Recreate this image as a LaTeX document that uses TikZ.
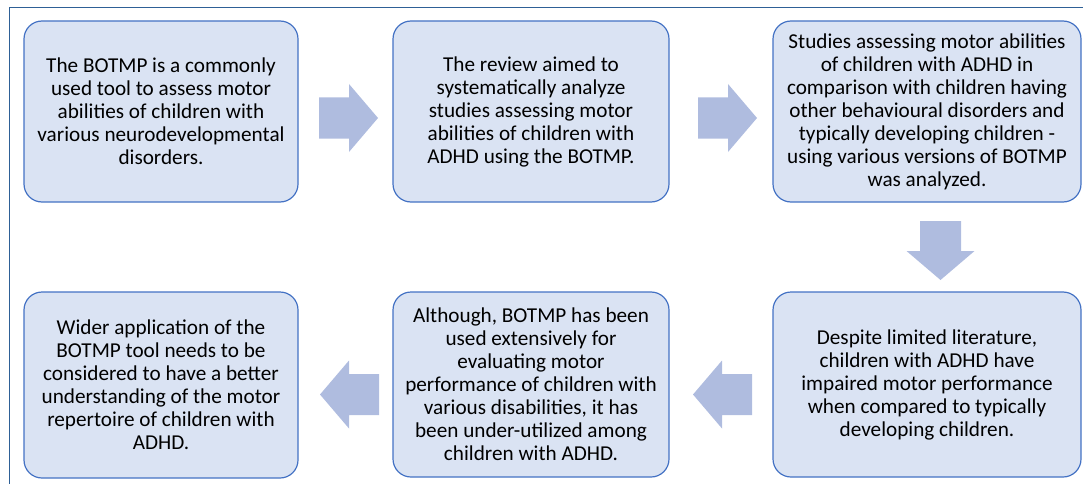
\documentclass[tikz,border=0pt]{standalone}
\usepackage{fontspec}
\setmainfont{Carlito}
\definecolor{boxfill}{RGB}{218,227,243}
\definecolor{boxline}{RGB}{68,114,196}
\definecolor{arrowfill}{RGB}{175,188,223}
\definecolor{framecol}{RGB}{46,96,150}
\tikzset{
  stepbox/.style={draw=boxline, fill=boxfill, line width=1.2pt, rounded corners=18pt,
    align=center, inner sep=0pt, font=\fontsize{21.2}{23}\selectfont},
  barrow/.pic={\fill[arrowfill] (0,-20.5) -- (30,-20.5) -- (30,-34) -- (59,0) -- (30,34) -- (30,20.5) -- (0,20.5) -- cycle;}
}
\begin{document}
\begin{tikzpicture}[x=1pt,y=-1pt]
\useasboundingbox (0,0) rectangle (1083,484);
\draw[framecol, line width=0.8pt] (9.5,484) -- (9.5,7.5) -- (1083,7.5);
\node[stepbox, minimum width=274pt, minimum height=181pt] (b1) at (161,111.5)
  {The BOTMP is a commonly\\used tool to assess motor\\abilities of children with\\various neurodevelopmental\\disorders.};
\node[stepbox, minimum width=276pt, minimum height=181pt] (b2) at (531,111.5)
  {The review aimed to\\systematically analyze\\studies assessing motor\\abilities of children with\\ADHD using the BOTMP.};
\node[stepbox, minimum width=308pt, minimum height=181pt] (b3) at (927,111.5)
  {Studies assessing motor abilities\\of children with ADHD in\\comparison with children having\\other behavioural disorders and\\typically developing children -\\using various versions of BOTMP\\was analyzed.};
\node[stepbox, minimum width=308pt, minimum height=185pt] (b4) at (927,384.5)
  {Despite limited literature,\\children with ADHD have\\impaired motor performance\\when compared to typically\\developing children.};
\node[stepbox, minimum width=276pt, minimum height=185pt] (b5) at (531,384.5)
  {Although, BOTMP has been\\used extensively for\\evaluating motor\\performance of children with\\various disabilities, it has\\been under-utilized among\\children with ADHD.};
\node[stepbox, minimum width=274pt, minimum height=186pt] (b6) at (161,385)
  {Wider application of the\\BOTMP tool needs to be\\considered to have a better\\understanding of the motor\\repertoire of children with\\ADHD.};
\coordinate (a1) at (319,118);
\coordinate (a2) at (698,118);
\coordinate (a3) at (940.5,221);
\coordinate (a4) at (752,394.5);
\coordinate (a5) at (379,394.5);
\pic at (a1) {barrow};
\pic at (a2) {barrow};
\pic[rotate=-90] at (a3) {barrow};
\pic[xscale=-1] at (a4) {barrow};
\pic[xscale=-1] at (a5) {barrow};
\end{tikzpicture}
\end{document}
